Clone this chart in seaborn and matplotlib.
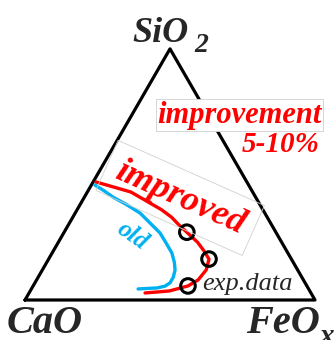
import numpy as np
import pandas as pd
import matplotlib
matplotlib.use("Agg")
import matplotlib.pyplot as plt
import seaborn as sns

# ternary compositions in %, CaO = 100 - SiO2 - FeOx
corner_sio2 = [0, 0, 100, 0]
corner_feox = [0, 100, 0, 0]

improved_sio2 = [47, 45, 43, 41, 39, 36, 33, 30, 27, 23, 19.5, 16.3, 12, 8, 5.6, 3.6, 2.8]
improved_feox = [1, 8, 15, 19, 23, 29, 34, 38, 42.3, 48, 52, 55.3, 56.5, 55.7, 53.4, 48, 40]

old_sio2 = [45.8, 43.5, 41, 38, 34.6, 30.5, 26.7, 22.5, 18.7, 15, 11.9, 9, 6.8, 5.5, 4.8, 4.4]
old_feox = [1.2, 5.5, 9.8, 16, 22.4, 28, 33.2, 37.5, 41.3, 44, 45.8, 46.6, 46.6, 45.5, 43.1, 36.8]

exp_sio2 = [27, 16.3, 5.6]
exp_feox = [42.3, 55.3, 53.4]


def to_xy(sio2, feox):
    s = np.asarray(sio2, float) / 100
    f = np.asarray(feox, float) / 100
    return f + s / 2, s * np.sqrt(3) / 2


sns.set_style("white")
plt.rcParams["font.family"] = ["Liberation Serif", "DejaVu Serif"]

fig = plt.figure(figsize=(3.34, 3.4), dpi=100)
ax = fig.add_axes([0, 0, 1, 1])

tx, ty = to_xy(corner_sio2, corner_feox)
sns.lineplot(x=tx, y=ty, sort=False, estimator=None, color="black", lw=2.3, ax=ax, zorder=2)

ox, oy = to_xy(old_sio2, old_feox)
sns.lineplot(x=ox, y=oy, sort=False, estimator=None, color="#00B0F0", lw=2.4, ax=ax, zorder=3)

rx, ry = to_xy(improved_sio2, improved_feox)
sns.lineplot(x=rx, y=ry, sort=False, estimator=None, color="#FF0000", lw=2.4, ax=ax, zorder=4)

ex, ey = to_xy(exp_sio2, exp_feox)
sns.scatterplot(x=ex, y=ey, s=110, facecolor="none", edgecolor="black",
                linewidth=2.2, ax=ax, zorder=5)

ax.set_xlim(-25 / 290, 309 / 290)
ax.set_ylim(-40 / 290, 300 / 290)
ax.axis("off")

lab = dict(fontweight="bold", fontstyle="italic")
# vertex labels, subscripts drawn as their own texts
ax.text(0.370, 0.890, "SiO", fontsize=26, ha="left", va="baseline", **lab)
ax.text(0.584, 0.855, "2", fontsize=20, ha="left", va="baseline", **lab)
ax.text(-0.064, -0.114, "CaO", fontsize=29, ha="left", va="baseline", **lab)
ax.text(0.762, -0.114, "FeO", fontsize=29, ha="left", va="baseline", **lab)
ax.text(1.015, -0.152, "x", fontsize=21, ha="left", va="baseline", **lab)

ax.text(1.024, 0.612, "improvement", fontsize=22, color="red", ha="right", va="baseline",
        bbox=dict(boxstyle="square,pad=0.05", fc="white", ec="#d0d0d0", lw=0.6), **lab)
ax.text(1.017, 0.510, "5-10%", fontsize=21, color="red", ha="right", va="baseline", **lab)

ax.text(0.535, 0.352, "improved", fontsize=26, color="red", rotation=-24,
        rotation_mode="anchor", ha="center", va="center", zorder=6,
        bbox=dict(boxstyle="square,pad=0.3", fc="none", ec="#d0d0d0", lw=0.6), **lab)
ax.text(0.370, 0.221, "old", fontsize=18, color="#00B0F0", rotation=-35,
        rotation_mode="anchor", ha="center", va="center", **lab)
ax.text(0.61, 0.034, "exp.data", fontsize=19, fontstyle="italic", ha="left", va="baseline")

fig.savefig("out.png", dpi=100)
